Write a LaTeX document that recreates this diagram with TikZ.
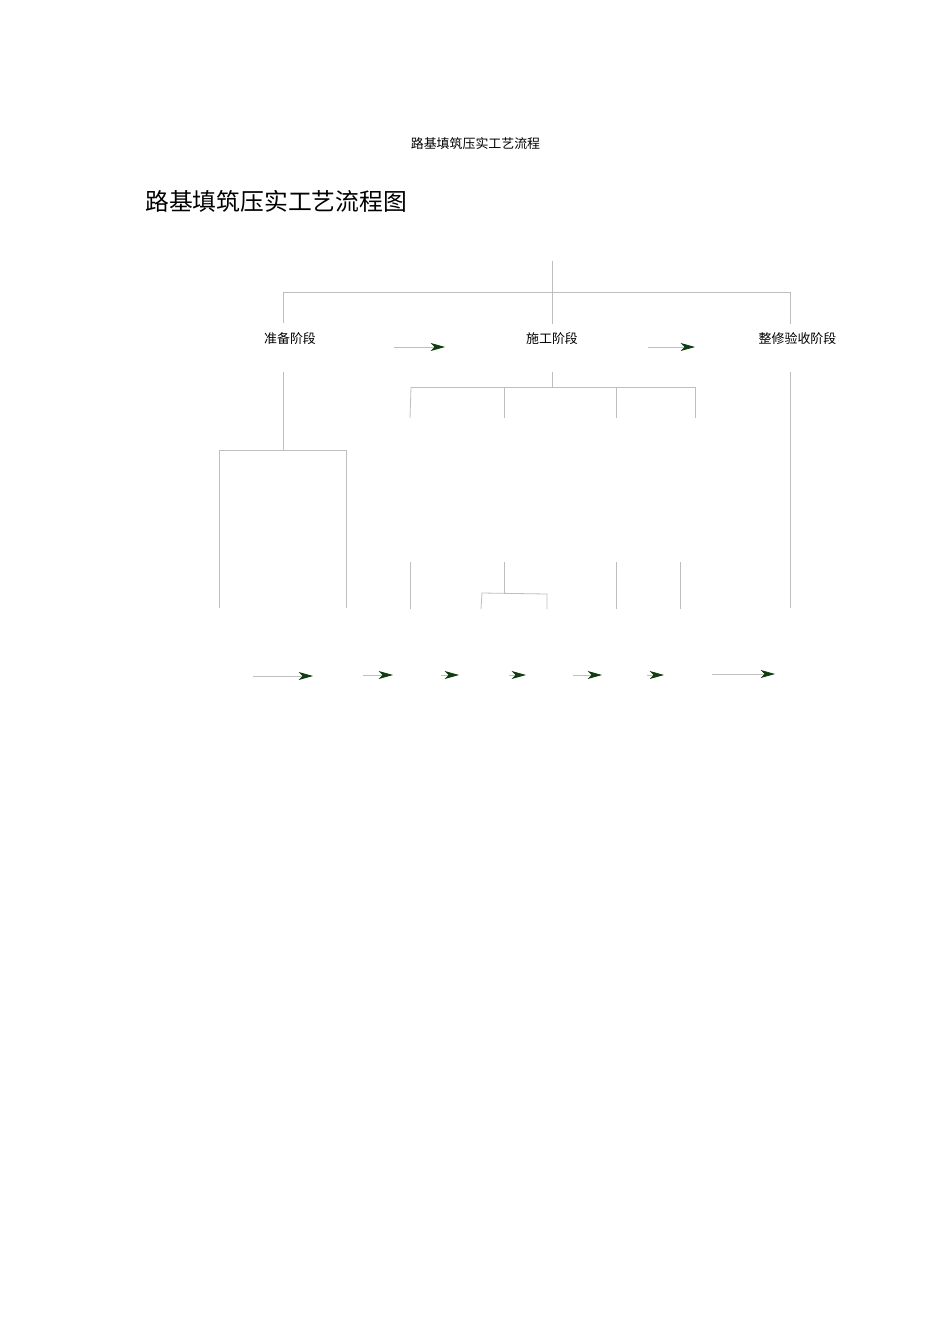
\documentclass[tikz,border=0pt]{standalone}
\usepackage{fontspec}
\setmainfont{Liberation Serif}
\newfontfamily\cjk{Noto Sans CJK SC}
\usetikzlibrary{arrows.meta}
\definecolor{linegray}{RGB}{190,190,190}
\definecolor{headgreen}{RGB}{16,60,16}
\begin{document}
\begin{tikzpicture}[x=0.6263pt,y=-0.6263pt,
  conn/.style={draw=linegray,line width=0.5pt},
  flowarrow/.style={draw=linegray,line width=0.5pt,-{Stealth[length=9pt,width=5pt,inset=2.5pt,color=headgreen]}},
  smalltext/.style={font=\cjk\fontsize{8.1}{9}\selectfont,inner sep=0pt},
  bigtext/.style={font=\cjk\fontsize{14.9}{16}\selectfont,inner sep=0pt,anchor=west}]
\useasboundingbox[fill=white] (0,0) rectangle (950,1344);

% titles
\node[smalltext] (hdr) at (475.5,144) {路基填筑压实工艺流程};
\node[bigtext] (title) at (145,201) {路基填筑压实工艺流程图};

% stage labels
\node[smalltext] (prep) at (290,339) {准备阶段};
\node[smalltext] (cons) at (552,339) {施工阶段};
\node[smalltext] (acc) at (797.5,339) {整修验收阶段};

% top tree
\coordinate (top) at (552.5,261);
\coordinate (topbot) at (552.5,324);
\coordinate (hl) at (283,292);
\coordinate (hr) at (790,292);
\coordinate (hm) at (552.5,292);
\coordinate (dl) at (283,323);
\coordinate (dr) at (790,324);
\draw[conn] (top) -- (topbot);
\draw[conn] (hl) -- (hr);
\draw[conn] (hl) -- (dl);
\draw[conn] (hr) -- (dr);

% stage arrows
\coordinate (a1s) at (394,347); \coordinate (a1e) at (445,347);
\coordinate (a2s) at (648,347); \coordinate (a2e) at (695,347);
\draw[flowarrow] (a1s) -- (a1e);
\draw[flowarrow] (a2s) -- (a2e);

% construction sub-tree
\coordinate (c0) at (552.5,372);
\coordinate (c1) at (552.5,387);
\coordinate (cl) at (411,387);
\coordinate (cr) at (695,387);
\coordinate (d1t) at (411,387); \coordinate (d1b) at (410,418);
\coordinate (d2t) at (504,387); \coordinate (d2b) at (504,418);
\coordinate (d3t) at (616,387); \coordinate (d3b) at (616,418);
\coordinate (d4t) at (695,387); \coordinate (d4b) at (695,418);
\draw[conn] (c0) -- (c1);
\draw[conn] (cl) -- (cr);
\draw[conn] (d1t) -- (d1b);
\draw[conn] (d2t) -- (d2b);
\draw[conn] (d3t) -- (d3b);
\draw[conn] (d4t) -- (d4b);

% preparation sub-tree
\coordinate (p0) at (283,372);
\coordinate (p1) at (283,450);
\coordinate (bl) at (219.5,450);
\coordinate (br) at (346.5,450);
\coordinate (blb) at (219.5,608);
\coordinate (brb) at (346.5,608);
\draw[conn] (p0) -- (p1);
\draw[conn] (blb) -- (bl) -- (br) -- (brb);

% acceptance line
\coordinate (r0) at (790,372);
\coordinate (r1) at (790,608);
\draw[conn] (r0) -- (r1);

% bottom stubs
\coordinate (s1t) at (410,562); \coordinate (s1b) at (410,609);
\coordinate (s2t) at (504,562); \coordinate (s2b) at (504,593);
\coordinate (bkl) at (482,593); \coordinate (bkr) at (547,594);
\coordinate (bklb) at (481,609); \coordinate (bkrb) at (547,609);
\coordinate (s3t) at (616,562); \coordinate (s3b) at (616,609);
\coordinate (s4t) at (680,562); \coordinate (s4b) at (680,609);
\draw[conn] (s1t) -- (s1b);
\draw[conn] (s2t) -- (s2b);
\draw[conn] (bklb) -- (bkl) -- (bkr) -- (bkrb);
\draw[conn] (s3t) -- (s3b);
\draw[conn] (s4t) -- (s4b);

% bottom arrows
\coordinate (b1s) at (253,676); \coordinate (b1e) at (313,676);
\coordinate (b2s) at (363,675); \coordinate (b2e) at (393,675);
\coordinate (b3s) at (441,675); \coordinate (b3e) at (459,675);
\coordinate (b4s) at (509,675); \coordinate (b4e) at (526,675);
\coordinate (b5s) at (573,675); \coordinate (b5e) at (602,675);
\coordinate (b6s) at (647,675); \coordinate (b6e) at (664,675);
\coordinate (b7s) at (712,674); \coordinate (b7e) at (775,674);
\draw[flowarrow] (b1s) -- (b1e);
\draw[flowarrow] (b2s) -- (b2e);
\draw[flowarrow] (b3s) -- (b3e);
\draw[flowarrow] (b4s) -- (b4e);
\draw[flowarrow] (b5s) -- (b5e);
\draw[flowarrow] (b6s) -- (b6e);
\draw[flowarrow] (b7s) -- (b7e);
\end{tikzpicture}
\end{document}
